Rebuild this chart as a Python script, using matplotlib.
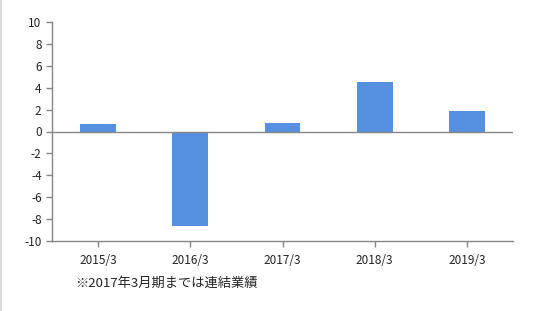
import matplotlib.pyplot as plt
from matplotlib.lines import Line2D

plt.rcParams['font.family'] = ['Noto Sans CJK JP', 'DejaVu Sans']

categories = ["2015/3", "2016/3", "2017/3", "2018/3", "2019/3"]
values = [0.68, -8.6, 0.8, 4.52, 1.87]
yticks = list(range(-10, 11, 2))
note = "※2017年3月期までは連結業績"

W, H = 534, 311
fig = plt.figure(figsize=(W / 100, H / 100), dpi=100)
ax = fig.add_axes([52 / W, 1 - 241 / H, 461 / W, 219 / H])

grey = "#868686"
ax.bar(range(len(categories)), values, width=0.39, color="#5591E0", zorder=2)
ax.axhline(0, color=grey, lw=1, zorder=3)

ax.set_xlim(-0.5, len(categories) - 0.5)
ax.set_ylim(-10, 10)
ax.set_yticks(yticks)
ax.set_yticklabels([str(v) for v in yticks])
ax.set_xticks(range(len(categories)))
ax.set_xticklabels(categories)

for s in ["top", "right"]:
    ax.spines[s].set_visible(False)
for s in ["left", "bottom"]:
    ax.spines[s].set_color(grey)
    ax.spines[s].set_linewidth(1)
ax.tick_params(axis="both", colors=grey, labelcolor="#222222", labelsize=8.5,
               length=4, width=1)
ax.tick_params(axis="x", pad=5)

# footnote
fig.text(75 / W, 1 - 283 / H, note, fontsize=9.5, color="#222222", va="center")

# chart area border on the left edge
fig.add_artist(Line2D([1 / W, 1 / W], [0, 1], color="#d9d9d9", lw=1.5,
                      transform=fig.transFigure))

fig.savefig("out.png", dpi=100)
